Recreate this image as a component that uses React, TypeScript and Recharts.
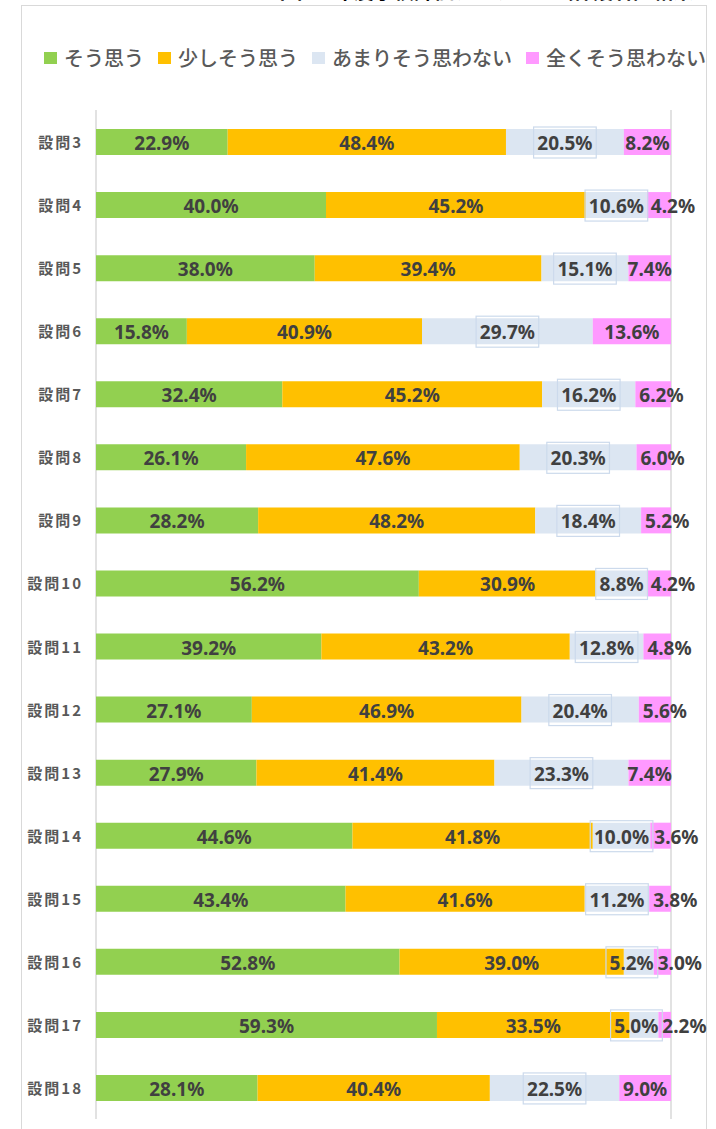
import React from "react";
import { BarChart, Bar, XAxis, YAxis, CartesianGrid, Legend, LabelList } from "recharts";

const categories = ["設問3", "設問4", "設問5", "設問6", "設問7", "設問8", "設問9", "設問10", "設問11", "設問12", "設問13", "設問14", "設問15", "設問16", "設問17", "設問18"];
const souOmou = [22.9, 40.0, 38.0, 15.8, 32.4, 26.1, 28.2, 56.2, 39.2, 27.1, 27.9, 44.6, 43.4, 52.8, 59.3, 28.1];
const sukoshiSouOmou = [48.4, 45.2, 39.4, 40.9, 45.2, 47.6, 48.2, 30.9, 43.2, 46.9, 41.4, 41.8, 41.6, 39.0, 33.5, 40.4];
const amariSouOmowanai = [20.5, 10.6, 15.1, 29.7, 16.2, 20.3, 18.4, 8.8, 12.8, 20.4, 23.3, 10.0, 11.2, 5.2, 5.0, 22.5];
const mattakuSouOmowanai = [8.2, 4.2, 7.4, 13.6, 6.2, 6.0, 5.2, 4.2, 4.8, 5.6, 7.4, 3.6, 3.8, 3.0, 2.2, 9.0];
const seriesNames = ["そう思う", "少しそう思う", "あまりそう思わない", "全くそう思わない"];
const xTicks = [0, 0.1, 0.2, 0.3, 0.4, 0.5, 0.6, 0.7, 0.8, 0.9, 1];

const seriesColors = ["#92D050", "#FFC000", "#DCE6F2", "#FF99FF"];
const seriesArrays = [souOmou, sukoshiSouOmou, amariSouOmowanai, mattakuSouOmowanai];
const keys = ["s0", "s1", "s2", "s3"];

const data = categories.map((name, i) => ({
  name,
  s0: souOmou[i],
  s1: sukoshiSouOmou[i],
  s2: amariSouOmowanai[i],
  s3: mattakuSouOmowanai[i],
}));

const LABEL_FONT = 19;
const textWidth = (s: string) => {
  let w = 0;
  for (const ch of s) {
    if (ch === ".") w += 0.29;
    else if (ch === "%") w += 0.87;
    else w += 0.572;
  }
  return w * LABEL_FONT;
};

const makeLabel = (seriesIndex: number) => (props: any) => {
  const { x, y, width, height, index } = props;
  const v = seriesArrays[seriesIndex][index];
  if (v === undefined) return null;
  const txt = v.toFixed(1) + "%";
  const sx = Number(x);
  const sw = Number(width);
  const cy = Number(y) + Number(height) / 2;
  const tw = textWidth(txt);
  let tx = sx + sw / 2;
  let anchor: "middle" | "start" | "end" = "middle";
  let boxCx = tx;
  if (tw > sw + 2) {
    if (seriesIndex === 3) {
      anchor = "start";
      tx = sx + 4;
      boxCx = tx + tw / 2;
    } else if (seriesIndex === 2) {
      anchor = "end";
      tx = sx + sw;
      boxCx = tx - tw / 2;
    }
  }
  return (
    <g>
      {seriesIndex === 2 && (
        <rect x={boxCx - tw / 2 - 4} y={cy - 15} width={tw + 8} height={31} fill="none" stroke="#CCDAEC" strokeWidth={1.2} />
      )}
      <text
        x={tx}
        y={cy + 1}
        textAnchor={anchor}
        dominantBaseline="central"
        fontFamily="'Noto Sans', 'Noto Sans CJK JP', sans-serif"
        fontWeight="bold"
        fontSize={LABEL_FONT}
        fill="#404040"
      >
        {txt}
      </text>
    </g>
  );
};

const LegendContent = () => (
  <div style={{ height: 70, width: 716, display: "flex", alignItems: "flex-start", paddingTop: 3, paddingLeft: 44, boxSizing: "border-box", whiteSpace: "nowrap" }}>
    {seriesNames.map((n, i) => (
      <div key={n} style={{ display: "flex", alignItems: "center", marginRight: 14, height: 30 }}>
        <div style={{ width: 13, height: 12, background: seriesColors[i], marginRight: 7 }} />
        <span style={{ fontFamily: "'Noto Sans CJK JP', sans-serif", fontSize: 20, fontWeight: 500, color: "#595959", lineHeight: "30px" }}>{n}</span>
      </div>
    ))}
  </div>
);

const CategoryTick = (props: any) => {
  const { x, y, payload } = props;
  return (
    <text
      x={Number(x) + 2}
      y={y}
      textAnchor="end"
      dominantBaseline="central"
      fontFamily="'Noto Sans CJK JP', sans-serif"
      fontWeight="bold"
      fontSize={15}
      letterSpacing={2}
      fill="#595959"
    >
      {payload.value}
    </text>
  );
};

export default function App() {
  return (
    <div style={{ position: "absolute", left: 0, top: 0, width: 716, height: 1129, overflow: "hidden", background: "#fff" }}>
      <div
        style={{
          position: "absolute",
          left: 274,
          top: -19,
          fontFamily: "'Noto Sans CJK JP', sans-serif",
          fontWeight: "bold",
          fontSize: 20,
          lineHeight: "20px",
          color: "#000",
          whiteSpace: "nowrap",
        }}
      >
        令和６年度学校評価アンケート（保護者）結果
      </div>
      <div
        style={{
          position: "absolute",
          left: 21,
          top: 5,
          width: 686,
          height: 1140,
          border: "1px solid #D9D9D9",
          boxSizing: "border-box",
        }}
      />
      <div style={{ position: "absolute", left: 0, top: 0 }}>
        <BarChart
          width={716}
          height={1129}
          data={data}
          layout="vertical"
          stackOffset="expand"
          barSize={26}
          margin={{ top: 40, right: 45, bottom: 10, left: 16 }}
        >
          <CartesianGrid horizontal={false} stroke="#D9D9D9" strokeWidth={1.5} />
          <XAxis type="number" domain={[0, 1]} ticks={xTicks} tick={false} axisLine={false} tickLine={false} height={0} />
          <YAxis
            type="category"
            dataKey="name"
            width={80}
            axisLine={false}
            tickLine={false}
            tickSize={6}
            tickMargin={9}
            tick={<CategoryTick />}
            interval={0}
          />
          <Legend verticalAlign="top" align="left" wrapperStyle={{ left: 0, width: 716 }} content={<LegendContent />} />
          {keys.map((k, i) => (
            <Bar key={k} dataKey={k} name={seriesNames[i]} stackId="a" fill={seriesColors[i]} isAnimationActive={false}>
              <LabelList dataKey={k} content={makeLabel(i)} />
            </Bar>
          ))}
        </BarChart>
      </div>
    </div>
  );
}
